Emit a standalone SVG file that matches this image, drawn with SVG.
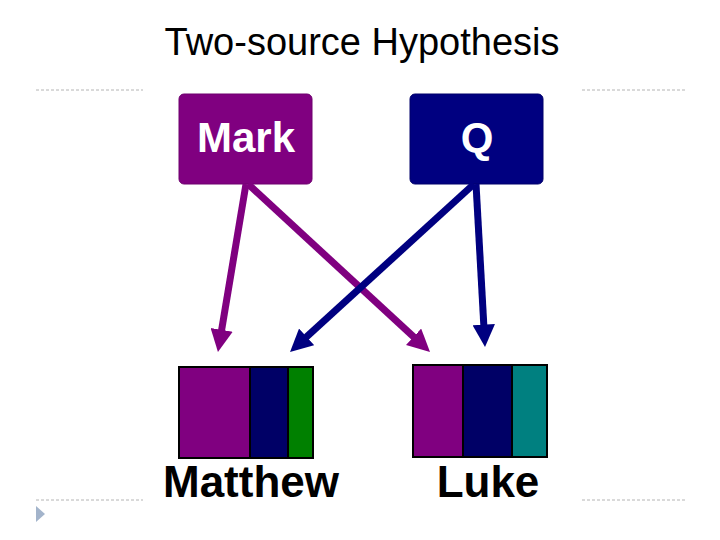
<svg xmlns="http://www.w3.org/2000/svg" width="720" height="540" viewBox="0 0 720 540">
<style>
.t{font-family:"Liberation Sans",Arial,sans-serif}
.lbl{font-family:"Liberation Sans",Arial,sans-serif;font-weight:bold;font-size:44px;fill:#000}
.src{font-family:"Liberation Sans",Arial,sans-serif;font-weight:bold;font-size:42px;fill:#fff}
.dash{stroke:#b4b4b4;stroke-width:1;stroke-dasharray:3,2}
.seg{stroke:#000;stroke-width:2}
</style>
<defs>
<marker id="ap" viewBox="0 0 10 10" refX="5" refY="5" markerWidth="3.2" markerHeight="3.2" orient="auto" markerUnits="strokeWidth"><path d="M0,0 L10,5 L0,10 z" fill="#800080"/></marker>
<marker id="an" viewBox="0 0 10 10" refX="5" refY="5" markerWidth="3.2" markerHeight="3.2" orient="auto" markerUnits="strokeWidth"><path d="M0,0 L10,5 L0,10 z" fill="#000080"/></marker>
</defs>
<rect width="720" height="540" fill="#fff"/>
<text class="t" x="362" y="55" font-size="38" text-anchor="middle" fill="#000">Two-source Hypothesis</text>
<line class="dash" x1="36" y1="90" x2="143" y2="90"/>
<line class="dash" x1="582" y1="90" x2="685" y2="90"/>
<line class="dash" x1="36" y1="500" x2="143" y2="500"/>
<line class="dash" x1="582" y1="500" x2="685" y2="500"/>
<polygon points="36,506 45,514 36,522" fill="#a3b4cb"/>
<g id="mark">
<rect x="179" y="94" width="133" height="90" rx="5" fill="#800080" stroke="#6e006e" stroke-width="1"/>
<text class="src" x="246" y="152" text-anchor="middle">Mark</text>
</g>
<g id="q">
<rect x="410" y="94" width="133" height="90" rx="5" fill="#000080" stroke="#00006a" stroke-width="1"/>
<text class="src" x="477" y="152" text-anchor="middle">Q</text>
</g>
<g id="connectors" stroke-width="7" fill="none">
<line x1="246" y1="184" x2="219.8" y2="340.9" stroke="#800080" marker-end="url(#ap)"/>
<line x1="248" y1="184" x2="421.8" y2="344.4" stroke="#800080" marker-end="url(#ap)"/>
<line x1="474" y1="184" x2="298.3" y2="344.4" stroke="#000080" marker-end="url(#an)"/>
<line x1="476" y1="184" x2="484.4" y2="335.8" stroke="#000080" marker-end="url(#an)"/>
</g>
<g id="matthew">
<rect x="179" y="367" width="71" height="91" fill="#800080"/>
<rect x="250" y="367" width="38" height="91" fill="#000066"/>
<rect x="288" y="367" width="25" height="91" fill="#008000"/>
<line class="seg" x1="250" y1="367" x2="250" y2="458"/>
<line class="seg" x1="288" y1="367" x2="288" y2="458"/>
<rect x="179" y="367" width="134" height="91" fill="none" stroke="#000" stroke-width="2"/>
<text class="lbl" x="251" y="497" text-anchor="middle">Matthew</text>
</g>
<g id="luke">
<rect x="413" y="365" width="50" height="92" fill="#800080"/>
<rect x="463" y="365" width="49" height="92" fill="#000066"/>
<rect x="512" y="365" width="35" height="92" fill="#008080"/>
<line class="seg" x1="463" y1="365" x2="463" y2="457"/>
<line class="seg" x1="512" y1="365" x2="512" y2="457"/>
<rect x="413" y="365" width="134" height="92" fill="none" stroke="#000" stroke-width="2"/>
<text class="lbl" x="488" y="497" text-anchor="middle">Luke</text>
</g>
</svg>
